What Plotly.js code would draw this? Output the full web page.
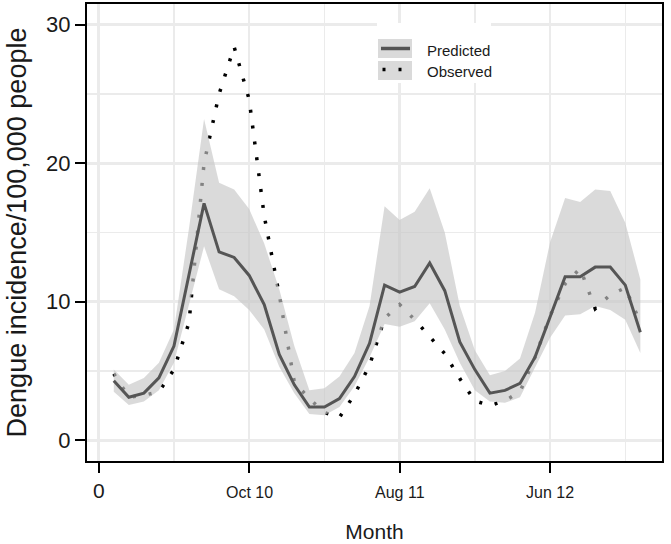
<!DOCTYPE html>
<html>
<head>
<meta charset="utf-8">
<script src="https://cdn.plot.ly/plotly-3.0.1.min.js"></script>
<style>
html, body { margin: 0; padding: 0; background: #ffffff; }
#chart { width: 671px; height: 544px; }
</style>
</head>
<body>
<div id="chart"></div>
<script>
// ---- data ----
const months = [1, 2, 3, 4, 5, 6, 7, 8, 9, 10, 11, 12, 13, 14, 15, 16, 17, 18,
                19, 20, 21, 22, 23, 24, 25, 26, 27, 28, 29, 30, 31, 32, 33, 34, 35, 36];
const predicted = [4.3, 3.1, 3.4, 4.5, 6.8, 11.9, 17.1, 13.6, 13.2, 11.9, 9.8, 6.2,
                   4.0, 2.4, 2.4, 3.0, 4.6, 7.0, 11.2, 10.7, 11.1, 12.8, 10.8, 7.1,
                   5.1, 3.4, 3.6, 4.1, 6.0, 8.9, 11.8, 11.8, 12.5, 12.5, 11.2, 7.8];
const lowerBound = [3.5, 2.55, 2.8, 3.6, 5.6, 9.7, 14.0, 10.9, 10.4, 9.4, 8.0, 5.3,
                    3.4, 1.9, 1.8, 2.4, 3.9, 6.0, 8.4, 8.2, 8.6, 9.9, 8.0, 5.6,
                    3.6, 2.8, 2.7, 3.1, 5.2, 7.4, 9.0, 9.1, 9.7, 9.4, 8.7, 6.3];
const upperBound = [5.1, 4.0, 4.5, 5.6, 8.0, 15.3, 23.2, 18.6, 18.1, 16.7, 14.2, 10.9,
                    6.8, 3.6, 3.75, 4.6, 6.3, 9.7, 16.9, 15.9, 16.5, 18.2, 15.0, 9.7,
                    6.5, 4.7, 5.0, 5.9, 9.2, 14.3, 17.5, 17.2, 18.1, 18.0, 15.7, 11.6];
const observed = [4.8, 3.1, 3.25, 3.5, 5.1, 8.5, 20.0, 25.0, 28.4, 24.6, 16.2, 10.5,
                  4.2, 3.0, 2.0, 1.65, 3.3, 5.4, 8.8, 9.8, 8.7, 7.5, 6.25, 4.45,
                  2.85, 2.5, 2.85, 3.5, 6.0, 9.0, 11.3, 12.4, 9.5, 10.5, 11.0, 8.5];
const xTickVals = [0, 10, 20, 30];
const xTickLabels = ['0', 'Oct 10', 'Aug 11', 'Jun 12'];
const xMinorVals = [5, 15, 25, 35];
const yTickVals = [0, 10, 20, 30];
const yTickLabels = ['0', '10', '20', '30'];
const yMinorVals = [5, 15, 25];
const seriesNames = ['Predicted', 'Observed'];
const xTitle = 'Month';
const yTitle = 'Dengue incidence/100,000 people';

// ---- styles ----
const bandColor = 'rgba(198,198,198,0.655)';
const predColor = '#555555';
const obsColor = '#000000';
const obsDash = '3px,13px';
const gridColor = '#ebebeb';
const textColor = '#1a1a1a';
const fontFam = 'Liberation Sans, Arial, sans-serif';
const narrowFam = 'Liberation Sans Narrow, Arial Narrow, Liberation Sans, Arial, sans-serif';

const traces = [
  { x: months, y: observed, type: 'scatter', mode: 'lines', name: seriesNames[1],
    line: { color: obsColor, width: 3.5, dash: obsDash }, showlegend: false, hoverinfo: 'skip' },
  { x: months, y: lowerBound, type: 'scatter', mode: 'lines', name: 'lower',
    line: { width: 0 }, showlegend: false, hoverinfo: 'skip' },
  { x: months, y: upperBound, type: 'scatter', mode: 'lines', name: 'upper',
    line: { width: 0 }, fill: 'tonexty', fillcolor: bandColor, showlegend: false, hoverinfo: 'skip' },
  { x: months, y: predicted, type: 'scatter', mode: 'lines', name: seriesNames[0],
    line: { color: predColor, width: 3 }, showlegend: false, hoverinfo: 'skip' }
];

// custom legend (ggplot style keys), pixel positions converted to paper coords
const PL = 87, PR = 662, PT = 4, PB = 461;
const px = v => (v - PL) / (PR - PL);
const py = v => (PB - v) / (PB - PT);

const shapes = [
  { type: 'rect', xref: 'paper', yref: 'paper', layer: 'above',
    x0: px(377), x1: px(491), y0: py(83), y1: py(23), fillcolor: '#ffffff', line: { width: 0 } },
  { type: 'rect', xref: 'paper', yref: 'paper', layer: 'above',
    x0: px(378), x1: px(412), y0: py(58), y1: py(39), fillcolor: bandColor, line: { width: 0 } },
  { type: 'rect', xref: 'paper', yref: 'paper', layer: 'above',
    x0: px(378), x1: px(412), y0: py(80), y1: py(61), fillcolor: bandColor, line: { width: 0 } },
  { type: 'line', xref: 'paper', yref: 'paper', layer: 'above',
    x0: px(381), x1: px(410), y0: py(48.5), y1: py(48.5), line: { color: predColor, width: 3.5 } },
  { type: 'line', xref: 'paper', yref: 'paper', layer: 'above',
    x0: px(382.5), x1: px(401.5), y0: py(69.5), y1: py(69.5), line: { color: obsColor, width: 3.5, dash: obsDash } }
];

const annotations = [
  { xref: 'paper', yref: 'paper', x: px(425), y: py(50), xanchor: 'left', yanchor: 'middle',
    text: seriesNames[0], showarrow: false, font: { family: fontFam, size: 15, color: textColor } },
  { xref: 'paper', yref: 'paper', x: px(425), y: py(72), xanchor: 'left', yanchor: 'middle',
    text: seriesNames[1], showarrow: false, font: { family: fontFam, size: 15, color: textColor } }
];
// month tick labels (smaller font than the "0" label in the reference)
for (let i = 1; i < xTickVals.length; i++) {
  annotations.push({ xref: 'x', yref: 'paper', x: xTickVals[i], y: py(492), xanchor: 'center', yanchor: 'middle',
    text: xTickLabels[i], showarrow: false, font: { family: fontFam, size: 16, color: textColor } });
}

const layout = {
  width: 671, height: 544,
  margin: { l: PL, r: 671 - PR, t: PT, b: 544 - PB, pad: 0 },
  paper_bgcolor: '#ffffff', plot_bgcolor: '#ffffff',
  showlegend: false,
  hovermode: false,
  xaxis: {
    range: [-0.78, 37.44], tickmode: 'array', tickvals: xTickVals,
    ticktext: xTickLabels.map((t, i) => i === 0 ? t : ''),
    ticks: 'outside', ticklen: 10, tickwidth: 2.2, tickcolor: '#000',
    showline: true, linecolor: '#000', linewidth: 2, mirror: true,
    showgrid: true, gridcolor: gridColor, gridwidth: 2.6, zeroline: false,
    minor: { tickvals: xMinorVals, showgrid: true, gridcolor: gridColor, gridwidth: 1.3, ticks: '' },
    tickfont: { family: narrowFam, size: 21, color: textColor },
    title: { text: xTitle, font: { family: fontFam, size: 21, color: textColor }, standoff: 23 }
  },
  yaxis: {
    range: [-1.5, 31.5], tickmode: 'array', tickvals: yTickVals, ticktext: yTickLabels,
    ticks: 'outside', ticklen: 10, tickwidth: 2.2, tickcolor: '#000',
    showline: true, linecolor: '#000', linewidth: 2, mirror: true,
    showgrid: true, gridcolor: gridColor, gridwidth: 2.6, zeroline: false,
    minor: { tickvals: yMinorVals, showgrid: true, gridcolor: gridColor, gridwidth: 1.3, ticks: '' },
    tickfont: { family: narrowFam, size: 22, color: textColor },
    title: { text: yTitle, font: { family: fontFam, size: 27, color: textColor }, standoff: 12 }
  },
  shapes: shapes,
  annotations: annotations
};

Plotly.newPlot('chart', traces, layout, { displayModeBar: false, staticPlot: true });
</script>
</body>
</html>
